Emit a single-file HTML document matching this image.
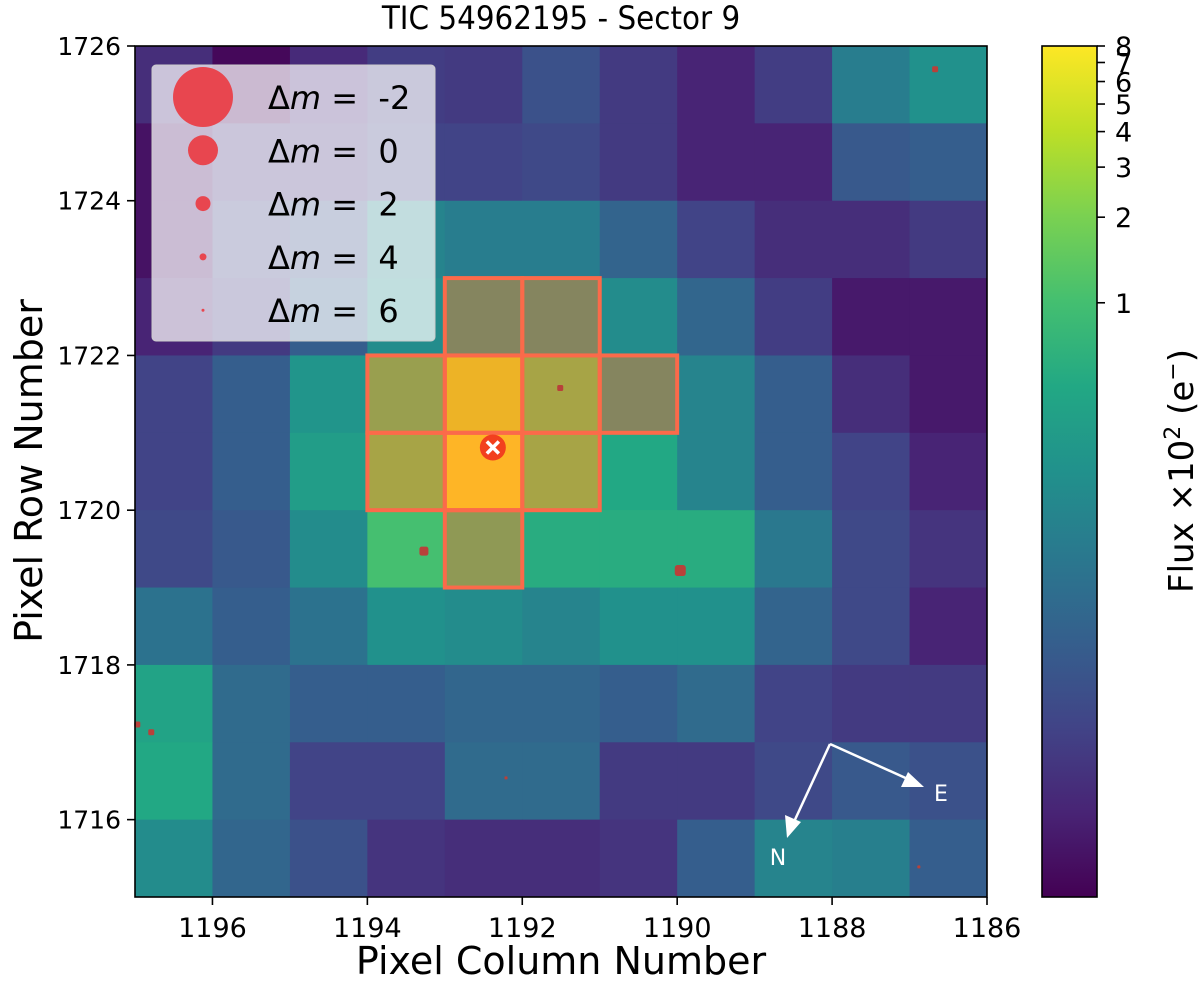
<!DOCTYPE html>
<html><head><meta charset="utf-8"><style>
html,body{margin:0;padding:0;background:#fff;}
svg{display:block;font-family:"DejaVu Sans","Liberation Sans",sans-serif;}
text{white-space:pre;}
</style></head><body>
<svg id="chart" width="1200" height="983" viewBox="0 0 1200 983" xmlns="http://www.w3.org/2000/svg">
<text x="561" y="29" font-size="32" text-anchor="middle" transform="translate(561,0) scale(0.92,1) translate(-561,0)">TIC 54962195 - Sector 9</text>
<g id="cells"></g>
<g id="aperture"></g>
<g id="stars"></g>
<rect x="135" y="46" width="852" height="851" fill="none" stroke="#000" stroke-width="1.6"/>
<g id="xaxis"></g>
<g id="yaxis"></g>
<text x="561" y="974" font-size="38" text-anchor="middle">Pixel Column Number</text>
<text transform="translate(42,471) rotate(-90)" font-size="38" text-anchor="middle">Pixel Row Number</text>
<g>
<rect x="152" y="65" width="283" height="276" rx="4" fill="#fff" fill-opacity="0.72" stroke="#ccc"/>
<g id="legend-entries"></g>
</g>
<g stroke="#fff" stroke-width="2.5" fill="#fff">
<line x1="830" y1="744" x2="793" y2="824"/>
<polygon points="787,838 785,815 801,822" stroke="none"/>
<line x1="830" y1="744" x2="910" y2="780"/>
<polygon points="924,787 901,787 908,772" stroke="none"/>
<text x="778" y="865" font-size="22" stroke="none" text-anchor="middle">N</text>
<text x="941" y="801" font-size="22" stroke="none" text-anchor="middle">E</text>
</g>
<defs><linearGradient id="vir" x1="0" y1="1" x2="0" y2="0"></linearGradient></defs>
<rect x="1042" y="46" width="55" height="851" fill="url(#vir)" stroke="#000" stroke-width="1.6"/>
<g id="cbticks"></g>
<text transform="translate(1193,471) rotate(-90)" font-size="34" text-anchor="middle">Flux ×10<tspan font-size="22" dy="-13">2</tspan><tspan dy="13"> (e</tspan><tspan font-size="22" dy="-13">−</tspan><tspan dy="13">)</tspan></text>
</svg>
<script>
const NS="http://www.w3.org/2000/svg";
// data
const columns=[1196,1195,1194,1193,1192,1191,1190,1189,1188,1187,1186];
const rows=[1725,1724,1723,1722,1721,1720,1719,1718,1717,1716,1715];
const flux=[
[0.0199,0.0093,0.0186,0.028,0.026,0.045,0.026,0.0162,0.028,0.146,0.255],
[0.0114,0.0228,0.0228,0.032,0.032,0.037,0.026,0.0162,0.0162,0.055,0.063],
[0.0114,0.032,0.045,0.18,0.146,0.146,0.073,0.032,0.0199,0.0199,0.026],
[0.0162,0.026,0.063,0.22,0.255,0.255,0.22,0.078,0.028,0.0131,0.0131],
[0.032,0.063,0.29,1.02,5.7,1.43,0.255,0.18,0.063,0.0199,0.0131],
[0.032,0.063,0.36,1.43,8.0,1.43,0.51,0.18,0.063,0.032,0.0162],
[0.037,0.055,0.22,1.02,0.72,0.58,0.58,0.58,0.127,0.037,0.0228],
[0.11,0.063,0.11,0.255,0.22,0.18,0.255,0.255,0.073,0.037,0.0162],
[0.44,0.09,0.063,0.063,0.078,0.078,0.063,0.09,0.032,0.026,0.026],
[0.51,0.09,0.032,0.032,0.09,0.09,0.026,0.026,0.037,0.055,0.045],
[0.22,0.078,0.045,0.0228,0.0199,0.0199,0.0228,0.063,0.18,0.156,0.063]];
const apertureCells=[[1192,1722],[1191,1722],[1193,1721],[1192,1721],[1191,1721],[1190,1721],[1193,1720],[1192,1720],[1191,1720],[1192,1719]];
const starCols=[1186.67,1191.51,1193.27,1189.96,1196.79,1196.97,1192.21,1186.88];
const starRows=[1725.70,1721.58,1719.47,1719.22,1717.13,1717.23,1716.54,1715.39];
const starSize=[6,6,9,11,6,6,3,3];
const targetCol=1192.38, targetRow=1720.81;
const xTicks=[1196,1194,1192,1190,1188,1186];
const yTicks=[1726,1724,1722,1720,1718,1716];
const cbTicks=[1,2,3,4,5,6,7,8];
const legendMags=["-2","0","2","4","6"];
const legendSizes=[60,30,15,7,3];
// scales
const X0=135,X1=987,Y0=46,Y1=897;
const xS=v=>X0+(1197-v)/11*(X1-X0);
const yS=v=>Y0+(1726-v)/11*(Y1-Y0);
const VMIN=0.00813,VMAX=8;
const cS=v=>Y1-(Math.log10(v)-Math.log10(VMIN))/(Math.log10(VMAX)-Math.log10(VMIN))*(Y1-Y0);
const vir=[[68,1,84],[72,36,117],[65,68,135],[53,95,141],[42,120,142],[33,145,140],[34,168,132],[68,191,112],[122,209,81],[189,223,38],[253,231,37]];
function color(v){let t=(Math.log10(v)-Math.log10(VMIN))/(Math.log10(VMAX)-Math.log10(VMIN));t=Math.max(0,Math.min(1,t))*10;const i=Math.min(9,Math.floor(t)),f=t-i;const a=vir[i],b=vir[i+1];return `rgb(${a.map((x,k)=>Math.round(x+(b[k]-x)*f)).join(',')})`;}
function mk(tag,attrs,parent){const e=document.createElementNS(NS,tag);for(const k in attrs)e.setAttribute(k,attrs[k]);parent.appendChild(e);return e;}
const g=document.getElementById('cells');
rows.forEach((r,i)=>columns.forEach((c,j)=>{
 const e=mk('rect',{x:xS(c+1),y:yS(r+1),width:xS(c)-xS(c+1)+0.5,height:yS(r)-yS(r+1)+0.5,fill:color(flux[i][j])},g);
 
 
}));
const ap=document.getElementById('aperture');
apertureCells.forEach(([c,r])=>{
 const e=mk('rect',{x:xS(c+1),y:yS(r+1),width:xS(c)-xS(c+1),height:yS(r)-yS(r+1),fill:'rgba(255,120,40,0.45)',stroke:'#fb6a4a','stroke-width':4},ap);
 
 
});
const st=document.getElementById('stars');
starCols.forEach((c,i)=>{const s=starSize[i];
 const e=mk('rect',{x:xS(c)-s/2,y:yS(starRows[i])-s/2,width:s,height:s,rx:s/4,fill:'#b8413a'},st);
 
 
});
const tg=mk('g',{},st);


mk('circle',{cx:xS(targetCol),cy:yS(targetRow),r:13,fill:'#f2401e'},tg);
mk('path',{d:`M${xS(targetCol)-6},${yS(targetRow)-6}l12,12m0,-12l-12,12`,stroke:'#fff','stroke-width':3.5},tg);
const xa=document.getElementById('xaxis');
xTicks.forEach(t=>{mk('line',{x1:xS(t),x2:xS(t),y1:Y1,y2:Y1+8,stroke:'#000','stroke-width':1.6},xa);
 const e=mk('text',{x:xS(t),y:Y1+40,'font-size':27,'text-anchor':'middle'},xa);e.textContent=t;
 
 });
const ya=document.getElementById('yaxis');
yTicks.forEach(t=>{mk('line',{x1:X0-8,x2:X0,y1:yS(t),y2:yS(t),stroke:'#000','stroke-width':1.6},ya);
 const e=mk('text',{x:X0-14,y:yS(t)+9,'font-size':25,'text-anchor':'end'},ya);e.textContent=t;
 
 });
const gr=document.querySelector('#vir');
vir.forEach((c,i)=>mk('stop',{offset:i/10,'stop-color':`rgb(${c.join(',')})`},gr));
const cb=document.getElementById('cbticks');
cbTicks.forEach(t=>{mk('line',{x1:1097,x2:1105,y1:cS(t),y2:cS(t),stroke:'#000','stroke-width':1.6},cb);
 const e=mk('text',{x:1115,y:cS(t)+10,'font-size':27},cb);e.textContent=t;
 
 });
const le=document.getElementById('legend-entries');
legendMags.forEach((m,i)=>{const y=97+i*53.3;
 const c=mk('circle',{cx:203,cy:y,r:legendSizes[i]/2,fill:'#e8464f'},le);
 
 
 const t=mk('text',{x:268,y:y+12,'font-size':32},le);
 t.innerHTML=`Δ<tspan font-style="italic">m</tspan> =  ${m}`;
 
 });
</script>
</body></html>
